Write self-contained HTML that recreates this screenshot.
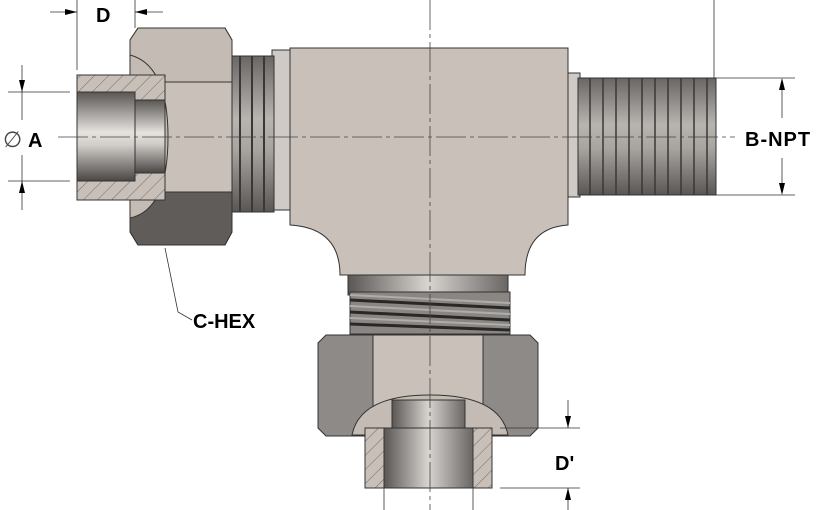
<!DOCTYPE html>
<html><head><meta charset="utf-8"><style>html,body{margin:0;padding:0;background:#fff}svg{display:block}</style></head>
<body>
<svg width="825" height="510" viewBox="0 0 825 510" xmlns="http://www.w3.org/2000/svg" font-family="Liberation Sans, sans-serif">
<defs>
<linearGradient id="bore" x1="0" y1="0" x2="0" y2="1">
<stop offset="0" stop-color="#5a5654"/><stop offset="0.45" stop-color="#e6e2de"/><stop offset="0.6" stop-color="#d0ccc8"/><stop offset="1" stop-color="#4a4644"/></linearGradient>
<linearGradient id="vbore" x1="0" y1="0" x2="1" y2="0">
<stop offset="0" stop-color="#5a5654"/><stop offset="0.5" stop-color="#d8d4d0"/><stop offset="1" stop-color="#6a6664"/></linearGradient>
<linearGradient id="thr" x1="0" y1="0" x2="0" y2="1">
<stop offset="0" stop-color="#6a6664"/><stop offset="0.4" stop-color="#b8b4b0"/><stop offset="0.6" stop-color="#a8a4a0"/><stop offset="1" stop-color="#5a5654"/></linearGradient>
<linearGradient id="vthr" x1="0" y1="0" x2="1" y2="0">
<stop offset="0" stop-color="#6a6664"/><stop offset="0.5" stop-color="#c0bcb8"/><stop offset="1" stop-color="#5a5654"/></linearGradient>
<pattern id="hatch" width="10" height="10" patternUnits="userSpaceOnUse" patternTransform="rotate(45)"><rect width="10" height="10" fill="#c8c0b8"/><line x1="0" y1="0" x2="0" y2="10" stroke="#555" stroke-width="0.8"/></pattern>
</defs>
<g stroke="#333" stroke-width="1">
<!-- main body -->
<path d="M290 48 H568 V225 Q525 228 525 275 H340 Q340 228 290 225 Z" fill="#c9c1b9"/>
<!-- right thread -->
<rect x="568" y="73" width="12" height="124" fill="#cfcac5"/>
<rect x="578" y="78" width="138" height="117" fill="url(#thr)"/>
<g stroke="#3a3836" stroke-width="1.5">
<path d="M590 78 V195 M603 78 V195 M616 78 V195 M629 78 V195 M642 78 V195 M655 78 V195 M668 78 V195 M681 78 V195 M694 78 V195 M707 78 V195"/>
</g>
<!-- left thread -->
<rect x="272" y="50" width="18" height="160" fill="#cfcac5"/>
<rect x="228" y="56" width="46" height="156" fill="url(#thr)"/>
<path d="M240 56 V212 M252 56 V212 M264 56 V212" stroke="#3a3836" stroke-width="2"/>
<!-- left hex -->
<path d="M138 28 H225 L232 40 V232 L225 245 H138 L130 232 V40 Z" fill="#c9c1b9"/>
<path d="M138 28 H225 L232 40 V82 H130 V40 Z" fill="#c4bcb4"/>
<path d="M130 192 H232 V232 L225 245 H138 L130 232 Z" fill="#605c5a"/>
<!-- arc cutout -->
<path d="M130 55 Q168 65 168 137 Q168 210 130 218 Z" fill="#c4bcb4"/>
<!-- tube left -->
<rect x="77" y="75" width="88" height="125" fill="url(#hatch)"/>
<rect x="77" y="92" width="58" height="89" fill="url(#bore)"/>
<rect x="135" y="100" width="30" height="73" fill="url(#bore)"/>
<!-- bottom stem -->
<rect x="348" y="275" width="160" height="20" fill="url(#vbore)"/>
<path d="M350 292 H510 V334 H350 Z" fill="#8a8684"/>
<path d="M350 300 L510 308 M350 312 L510 320 M350 324 L510 330" stroke="#2a2826" stroke-width="3"/>
<path d="M350 295 L510 303 M350 306 L510 314 M350 318 L510 325" stroke="#b0aca8" stroke-width="2"/>
<!-- bottom hex -->
<path d="M326 335 H530 L538 343 V428 L530 436 H326 L318 428 V343 Z" fill="#8e8a88"/>
<rect x="373" y="335" width="110" height="101" fill="#c9c1b9"/>
<path d="M352 435 Q360 395 430 395 Q500 395 508 435 Z" fill="#c4bcb4"/>
<!-- bottom tube -->
<rect x="365" y="428" width="127" height="60" fill="url(#hatch)"/>
<rect x="392" y="400" width="73" height="28" fill="url(#vbore)"/>
<rect x="384" y="428" width="89" height="60" fill="url(#vbore)"/>
</g>
<!-- centerlines -->
<g stroke="#444" stroke-width="0.8" stroke-dasharray="30 4 4 4" fill="none">
<path d="M58 137 H735"/><path d="M430 0 V510"/>
</g>
<!-- dimensions -->
<g stroke="#333" stroke-width="0.8" fill="none">
<path d="M77 0 V70 M135 0 V28 M50 12 H77 M135 12 H163"/>
<path d="M8 92 H70 M8 181 H70 M22 65 V120 M22 155 V210"/>
<path d="M714 0 V78 M716 78 H795 M716 195 H795 M782 80 V118 M782 158 V193"/>
<path d="M500 428 H580 M500 488 H580 M568 400 V428 M568 488 V510 M384 488 V510 M473 488 V510"/>
<path d="M165 248 L178 312 L192 320"/>
</g>
<g fill="#000">
<path d="M77 12 l-12 -3 v6z M135 12 l12 -3 v6z"/>
<path d="M22 92 l-3 -12 h6z M22 181 l-3 12 h6z"/>
<path d="M782 78 l-3 12 h6z M782 195 l-3 -12 h6z"/>
<path d="M568 428 l-3 -12 h6z M568 488 l-3 12 h6z"/>
</g>
<g font-weight="bold" font-size="20" fill="#000">
<text x="96" y="22">D</text>
<text x="28" y="147">A</text>
<text x="745" y="146" letter-spacing="1">B-NPT</text>
<text x="193" y="328">C-HEX</text>
<text x="555" y="470">D'</text>
</g>
<text x="3" y="147" font-size="22" fill="#444">∅</text>
</svg>
</body></html>
